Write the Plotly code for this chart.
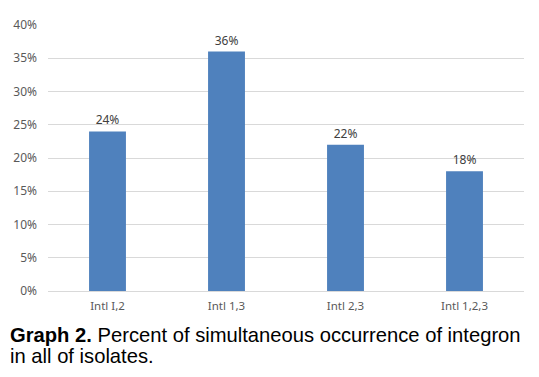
import plotly.graph_objects as go

categories = ["Intl I,2", "Intl 1,3", "Intl 2,3", "Intl 1,2,3"]
values = [24, 36, 22, 18]
value_labels = ["24%", "36%", "22%", "18%"]
y_ticks = [0, 5, 10, 15, 20, 25, 30, 35, 40]
y_tick_labels = [f"{v}%" for v in y_ticks]
caption_lines = [
    "<b>Graph 2.</b> Percent of simultaneous occurrence of integron",
    "in all of isolates.",
]

fig = go.Figure()
fig.add_trace(go.Bar(
    x=categories, y=values,
    text=value_labels, textposition="outside",
    textfont=dict(family="Noto Sans, Liberation Sans, sans-serif", size=12, color="#404040"),
    marker=dict(color="#4F81BD", line=dict(width=0)),
    width=0.31, cliponaxis=False,
))

# page body has an 8px default margin; size/margins compensate so the plot area
# lands at x 48..524, y 25..291 as in the reference
PLOT_TOP, PLOT_BOTTOM, PLOT_LEFT, PLOT_W = 25, 291, 48, 476
ph = PLOT_BOTTOM - PLOT_TOP

fig.update_layout(
    width=531, height=369,
    margin=dict(l=40, r=15, t=17, b=86, autoexpand=False),
    paper_bgcolor="white", plot_bgcolor="white",
    showlegend=False,
    font=dict(family="Noto Sans, Liberation Sans, sans-serif", size=12, color="#595959"),
    xaxis=dict(showgrid=False, showline=True, linecolor="#d9d9d9", linewidth=1,
               automargin=False, ticks="", ticklabelstandoff=4,
               tickfont=dict(size=11.5, color="#595959")),
    yaxis=dict(range=[0, 40], tickvals=y_ticks, ticktext=y_tick_labels,
               showgrid=True, gridcolor="#d9d9d9", gridwidth=1, zeroline=False,
               automargin=False, showline=False, ticks="", ticklabelstandoff=10,
               tickfont=dict(size=12, color="#595959")),
)

for i, (line, yc) in enumerate(zip(caption_lines, [335, 356])):
    fig.add_annotation(
        xref="paper", yref="paper",
        x=(8 - PLOT_LEFT) / PLOT_W, y=(PLOT_BOTTOM - yc) / ph,
        xanchor="left", yanchor="middle", align="left", showarrow=False,
        text=line,
        font=dict(family="Liberation Sans, Arial, sans-serif", size=20.2, color="black"),
    )

fig.write_html("out.html")
